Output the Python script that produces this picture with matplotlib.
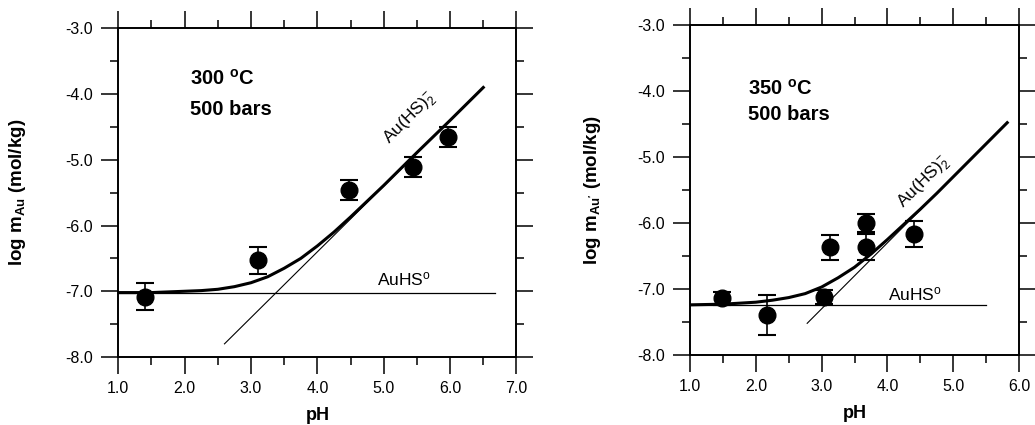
import matplotlib
matplotlib.use("Agg")
import matplotlib.pyplot as plt
from matplotlib.ticker import MultipleLocator, FormatStrFormatter

plt.rcParams['font.family'] = ['Liberation Sans', 'DejaVu Sans']
plt.rcParams['mathtext.fontset'] = 'custom'
plt.rcParams['mathtext.rm'] = 'Liberation Sans'
plt.rcParams['mathtext.it'] = 'Liberation Sans:italic'
plt.rcParams['mathtext.bf'] = 'Liberation Sans:bold'
plt.rcParams['axes.unicode_minus'] = False

# ---- 300 C, 500 bars ----
ph_300 = [1.40, 3.11, 4.48, 5.44, 5.97]
logm_300 = [-7.08, -6.53, -5.46, -5.11, -4.65]
err_300 = [0.20, 0.20, 0.15, 0.15, 0.15]

# total solubility curve
curve_ph_300 = [1.0, 1.5, 2.0, 2.25, 2.5, 2.75, 3.0, 3.25, 3.5, 3.75, 4.0, 4.25, 4.5, 4.75, 5.0,
                5.5, 6.0, 6.5]
curve_logm_300 = [-7.02, -7.02, -7.00, -6.99, -6.97, -6.93, -6.87, -6.78, -6.65, -6.50, -6.31,
                  -6.10, -5.87, -5.63, -5.39, -4.89, -4.40, -3.90]
auhs_ph_300 = [1.0, 6.68]
auhs_logm_300 = [-7.02, -7.02]
auhs2_ph_300 = [2.60, 6.50]
auhs2_logm_300 = [-7.80, -3.90]

# ---- 350 C, 500 bars ----
ph_350 = [1.48, 2.17, 3.03, 3.13, 3.68, 3.68, 4.41]
logm_350 = [-7.14, -7.39, -7.12, -6.37, -6.00, -6.36, -6.17]
err_350 = [0.10, 0.30, 0.10, 0.19, 0.14, 0.20, 0.20]

curve_ph_350 = [1.0, 1.5, 2.0, 2.25, 2.5, 2.75, 3.0, 3.25, 3.5, 3.75, 4.0, 4.25, 4.5, 4.75, 5.0,
                5.5, 5.82]
curve_logm_350 = [-7.24, -7.23, -7.20, -7.17, -7.13, -7.07, -6.97, -6.83, -6.67, -6.47, -6.25,
                  -6.02, -5.79, -5.55, -5.30, -4.80, -4.48]
auhs_ph_350 = [1.0, 5.50]
auhs_logm_350 = [-7.24, -7.24]
auhs2_ph_350 = [2.78, 5.82]
auhs2_logm_350 = [-7.52, -4.48]

fig = plt.figure(figsize=(10.35, 4.25), dpi=100)
ax1 = fig.add_axes([0.1143, 0.160, 0.3847, 0.7734])
ax2 = fig.add_axes([0.6667, 0.1647, 0.3179, 0.7765])


def style_axes(ax, xmax):
    ax.set_xlim(1.0, xmax)
    ax.set_ylim(-8.0, -3.0)
    ax.xaxis.set_major_locator(MultipleLocator(1.0))
    ax.xaxis.set_minor_locator(MultipleLocator(0.5))
    ax.yaxis.set_major_locator(MultipleLocator(1.0))
    ax.yaxis.set_minor_locator(MultipleLocator(0.5))
    ax.xaxis.set_major_formatter(FormatStrFormatter('%.1f'))
    ax.yaxis.set_major_formatter(FormatStrFormatter('%.1f'))
    ax.tick_params(which='both', direction='out', top=True, right=True, width=1.1)
    ax.tick_params(which='major', length=12)
    ax.tick_params(which='minor', length=5.5)
    ax.tick_params(axis='y', which='major', pad=6, labelsize=11.5)
    ax.tick_params(axis='x', which='major', pad=5, labelsize=11.5)
    for s in ax.spines.values():
        s.set_linewidth(1.4)
    ax.set_xlabel('pH', fontsize=13, fontweight='bold')
    ax.xaxis.set_label_coords(0.5, -0.152)
    ax.xaxis.label.set_va('top')


def draw_panel(ax, ph, logm, err, cph, clog, hph, hlog, dph, dlog):
    ax.plot(hph, hlog, color='black', lw=0.9, zorder=2)
    ax.plot(dph, dlog, color='black', lw=0.8, zorder=2)
    ax.plot(cph, clog, color='black', lw=2.2, zorder=3, solid_joinstyle='round')
    ax.errorbar(ph, logm, yerr=err, fmt='o', color='black', ms=12, capsize=6.5,
                elinewidth=1.2, capthick=1.5, zorder=4, clip_on=False)


style_axes(ax1, 7.0)
draw_panel(ax1, ph_300, logm_300, err_300, curve_ph_300, curve_logm_300,
           auhs_ph_300, auhs_logm_300, auhs2_ph_300, auhs2_logm_300)
ax1.set_ylabel(r'log m$_{\mathbf{Au}}$ (mol/kg)', fontsize=13.5, fontweight='bold')
ax1.yaxis.set_label_coords(-0.227, 0.5)
ax1.text(2.08, -3.86, r'300 $^{\mathbf{o}}$C', fontsize=14.5, fontweight='bold', va='baseline')
ax1.text(2.08, -4.32, '500 bars', fontsize=14.5, fontweight='bold', va='baseline')
ax1.text(5.40, -4.37, r'Au(HS)$_2^{-}$', fontsize=12.5, rotation=45, ha='center', va='center')
ax1.text(4.90, -6.91, r'AuHS$^{\rm o}$', fontsize=12.5, va='baseline')

style_axes(ax2, 6.0)
draw_panel(ax2, ph_350, logm_350, err_350, curve_ph_350, curve_logm_350,
           auhs_ph_350, auhs_logm_350, auhs2_ph_350, auhs2_logm_350)
ax2.set_ylabel(r"log m$_{\mathbf{Au'}}$ (mol/kg)", fontsize=13.5, fontweight='bold')
ax2.yaxis.set_label_coords(-0.264, 0.5)
ax2.text(1.88, -4.06, r'350 $^{\mathbf{o}}$C', fontsize=14.5, fontweight='bold', va='baseline')
ax2.text(1.88, -4.44, '500 bars', fontsize=14.5, fontweight='bold', va='baseline')
ax2.text(4.55, -5.39, r'Au(HS)$_2^{-}$', fontsize=12.5, rotation=45, ha='center', va='center')
ax2.text(4.01, -7.17, r'AuHS$^{\rm o}$', fontsize=12.5, va='baseline')

fig.savefig('out.png', dpi=100)
